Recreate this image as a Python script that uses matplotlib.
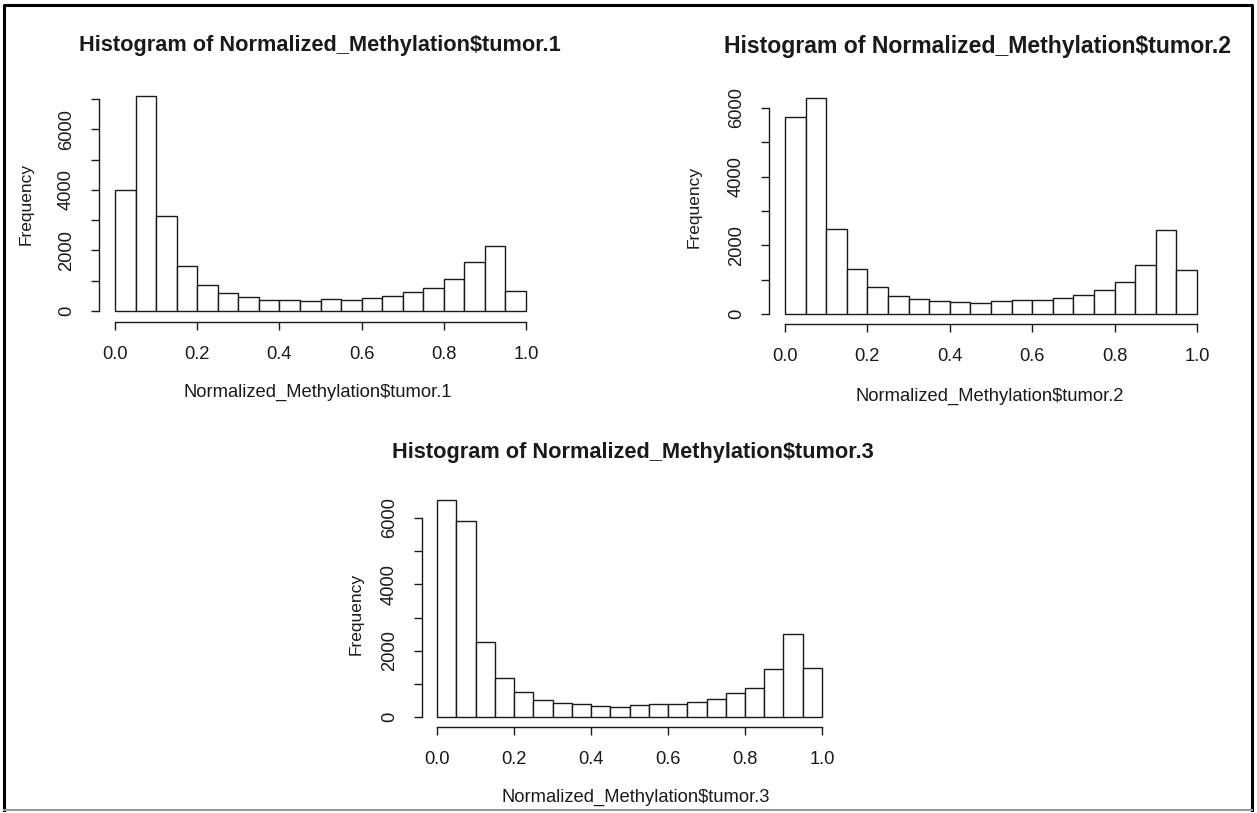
import numpy as np
import matplotlib
matplotlib.use("Agg")
import matplotlib.pyplot as plt
from matplotlib.lines import Line2D

plt.rcParams['font.family'] = ['Liberation Sans', 'DejaVu Sans']

W, H = 1257, 813

bin_edges = np.linspace(0.0, 1.0, 21)

tumor1_counts = [4000, 7090, 3150, 1500, 850, 610, 470, 370, 370, 330,
                 410, 360, 440, 510, 640, 750, 1060, 1610, 2160, 650]
tumor2_counts = [5730, 6300, 2470, 1320, 780, 520, 450, 370, 340, 310,
                 380, 410, 410, 470, 550, 690, 930, 1440, 2440, 1290]
tumor3_counts = [6540, 5920, 2260, 1180, 750, 520, 420, 380, 340, 310,
                 350, 380, 380, 460, 550, 710, 870, 1440, 2510, 1490]

titles = ["Histogram of Normalized_Methylation$tumor.1",
          "Histogram of Normalized_Methylation$tumor.2",
          "Histogram of Normalized_Methylation$tumor.3"]
xlabels = ["Normalized_Methylation$tumor.1",
           "Normalized_Methylation$tumor.2",
           "Normalized_Methylation$tumor.3"]
x_ticks = [0.0, 0.2, 0.4, 0.6, 0.8, 1.0]

# pixel layout per panel: x0/x1 = data 0 and 1, y0/ytop = data 0 and top tick,
# xaxis_y = where the x axis line sits; text centres in pixels
panels = [
    dict(counts=tumor1_counts, x0=115, x1=526, xaxis_y=322,
         y0=311, ytop=99, top_tick=7000, title=(320, 46), title_fs=15.7,
         xlab=(318, 392), ylab=(26, 204)),
    dict(counts=tumor2_counts, x0=785, x1=1197, xaxis_y=324,
         y0=314, ytop=108, top_tick=6000, title=(977, 46), title_fs=16.6,
         xlab=(990, 396), ylab=(694, 207)),
    dict(counts=tumor3_counts, x0=437, x1=822, xaxis_y=727,
         y0=717, ytop=518, top_tick=6000, title=(633, 452), title_fs=15.7,
         xlab=(636, 797), ylab=(356, 614)),
]

fig = plt.figure(figsize=(W / 100, H / 100), dpi=100)
ink = "#1a1a1a"
fs = 13.2


def fx(px):
    return px / W


def fy(py):
    return 1 - py / H


for i, p in enumerate(panels):
    sx = (p["x1"] - p["x0"])
    sy = (p["y0"] - p["ytop"]) / p["top_tick"]
    left = p["x0"] - 0.04 * sx
    right = p["x1"] + 15
    bottom, top = p["xaxis_y"], p["ytop"] - 40
    ax = fig.add_axes([fx(left), fy(bottom), fx(right - left), (bottom - top) / H])
    ax.set_xlim((left - p["x0"]) / sx, (right - p["x0"]) / sx)
    ax.set_ylim(-(bottom - p["y0"]) / sy, (p["y0"] - top) / sy)
    ax.patch.set_alpha(0)

    ax.bar(bin_edges[:-1], p["counts"], width=np.diff(bin_edges), align="edge",
           facecolor="white", edgecolor=ink, linewidth=1.0)

    for s in ["top", "right"]:
        ax.spines[s].set_visible(False)
    ax.spines["left"].set_bounds(0, p["top_tick"])
    ax.spines["bottom"].set_bounds(0, 1)
    for s in ["left", "bottom"]:
        ax.spines[s].set_color(ink)
        ax.spines[s].set_linewidth(1.0)

    yt = list(range(0, p["top_tick"] + 1, 1000))
    ax.set_yticks(yt)
    ax.set_yticklabels([str(v) if v % 2000 == 0 else "" for v in yt])
    ax.set_xticks(x_ticks)
    ax.set_xticklabels([f"{v:.1f}" for v in x_ticks])
    ax.tick_params(axis="both", length=6, width=1.0, color=ink, labelcolor=ink,
                   labelsize=fs)
    ax.tick_params(axis="x", pad=11)
    ax.tick_params(axis="y", pad=11, labelrotation=90)
    for lab in ax.get_yticklabels():
        lab.set_va("center")

    fig.text(fx(p["title"][0]), fy(p["title"][1]), titles[i], ha="center",
             va="center", fontsize=p["title_fs"], fontweight="bold", color=ink)
    fig.text(fx(p["xlab"][0]), fy(p["xlab"][1]), xlabels[i], ha="center",
             va="center", fontsize=fs, color=ink)
    fig.text(fx(p["ylab"][0]), fy(p["ylab"][1]), "Frequency", ha="center",
             va="center", rotation=90, fontsize=12.5, color=ink)

# outer frame
fig.add_artist(Line2D([fx(4), fx(4), fx(1252), fx(1252)], [fy(810), fy(5), fy(5), fy(810)],
                      color="black", linewidth=2.2))
fig.add_artist(Line2D([fx(4), fx(1252)], [fy(810), fy(810)], color="#999999",
                      linewidth=1.5))

fig.savefig("out.png", dpi=100)
